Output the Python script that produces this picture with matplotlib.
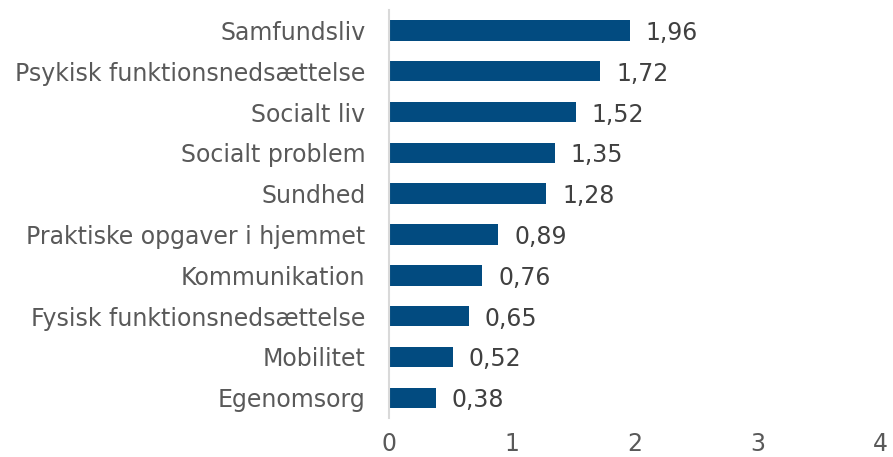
import matplotlib
matplotlib.use("Agg")
import matplotlib.pyplot as plt

categories = [
    "Samfundsliv",
    "Psykisk funktionsnedsættelse",
    "Socialt liv",
    "Socialt problem",
    "Sundhed",
    "Praktiske opgaver i hjemmet",
    "Kommunikation",
    "Fysisk funktionsnedsættelse",
    "Mobilitet",
    "Egenomsorg",
]
values = [1.96, 1.72, 1.52, 1.35, 1.28, 0.89, 0.76, 0.65, 0.52, 0.38]
xticks = [0, 1, 2, 3, 4]

bar_color = "#024B80"
text_color = "#595959"
fs = 17

fig = plt.figure(figsize=(8.93, 4.57), dpi=100)
ax = fig.add_axes([0.4356, 0.085, 0.55, 0.893])

pos = list(range(len(categories)))
ax.barh(pos, values, height=0.5, color=bar_color)
for p, v in zip(pos, values):
    ax.text(v + 0.13, p + 0.06, f"{v:.2f}".replace(".", ","), va="center", ha="left",
            fontsize=fs, color="#404040")

ax.set_ylim(len(categories) - 0.5, -0.5)
ax.set_xlim(0, 4)
ax.set_yticks(pos)
ax.set_yticklabels(categories, fontsize=fs, color=text_color)
ax.set_xticks(xticks)
ax.set_xticklabels([str(t) for t in xticks], fontsize=fs, color=text_color)
ax.tick_params(axis="y", length=0, pad=17)
ax.tick_params(axis="x", length=0, pad=10)

for s in ["top", "right", "bottom"]:
    ax.spines[s].set_visible(False)
ax.spines["left"].set_color("#D9D9D9")
ax.spines["left"].set_linewidth(1.5)

fig.savefig("out.png", dpi=100)
